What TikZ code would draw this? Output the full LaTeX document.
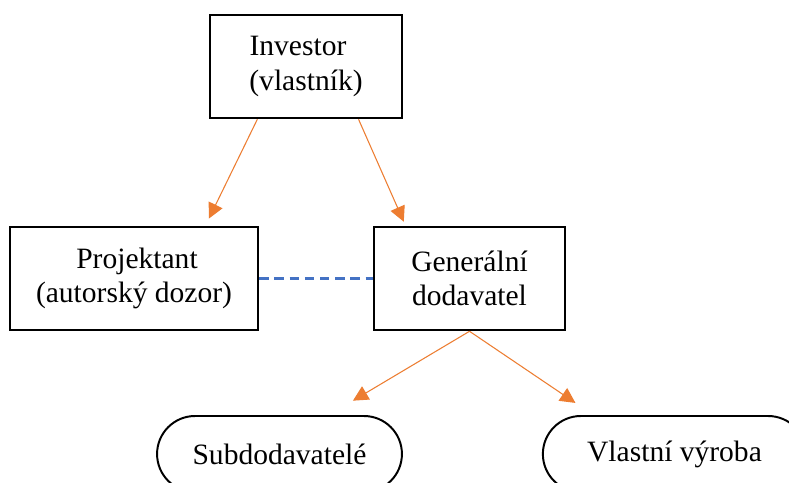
\documentclass[tikz,border=0pt]{standalone}
\usepackage{fontspec}
\setmainfont{Liberation Serif}
\usepackage{xcolor}
\usetikzlibrary{arrows.meta,calc}
\definecolor{linkorange}{HTML}{ED7D31}
\definecolor{linkblue}{HTML}{4472C4}

\begin{document}
\begin{tikzpicture}[x=0.025cm, y=-0.025cm,
  font=\fontsize{21pt}{24.5pt}\selectfont,
  box/.style={draw=black, line width=1.8pt, fill=white, align=center,
              minimum height=2.575cm, inner sep=0pt},
  pill/.style={draw=black, line width=1.4pt, fill=white, align=center,
               rounded corners=0.95cm, minimum height=1.9cm, inner sep=0pt},
  arr/.style={-{Triangle[length=0.38cm, width=0.38cm]}, linkorange, line width=0.75pt},
  link/.style={linkblue, line width=1.6pt, dash pattern=on 6.6pt off 4.2pt}]
\fill[white] (0,0) rectangle (789,482);
\useasboundingbox (0,0) rectangle (789,482);
% --- top: investor ---
\node[box, minimum width=4.8cm] (inv) at (306,66.5)
  {Investor\hspace*{0.4cm}\\(vlastník)};
% --- middle row ---
\node[box, minimum width=6.2cm] (proj) at (134,278.5)
  {\hspace*{0.15cm}Projektant\\(autorský dozor)};
\node[box, minimum width=4.78cm] (gen) at (469.5,278.5) {Generální\\dodavatel};
\draw[link] (proj.east) -- (gen.west);
% --- bottom row ---
\node[pill, minimum width=6.12cm] (sub) at (279.5,454) {Subdodavatelé};
\node[pill, minimum width=6.58cm] (own) at (674.5,454) {Vlastní výroba};
% --- arrows ---
\draw[arr, shorten >=0.2cm] ($(inv.south west)!0.25!(inv.south east)$)
  -- ($(proj.north west)!0.785!(proj.north east)$);
\draw[arr, shorten >=0.11cm] ($(inv.south west)!0.77!(inv.south east)$)
  -- ($(gen.north west)!0.17!(gen.north east)$);
\draw[arr, shorten >=0.7cm] (gen.south)
  -- ($(sub.north west)!0.7!(sub.north east)$);
\draw[arr, shorten >=0.54cm] (gen.south)
  -- ($(own.north west)!0.194!(own.north east)$);
\end{tikzpicture}
\end{document}
